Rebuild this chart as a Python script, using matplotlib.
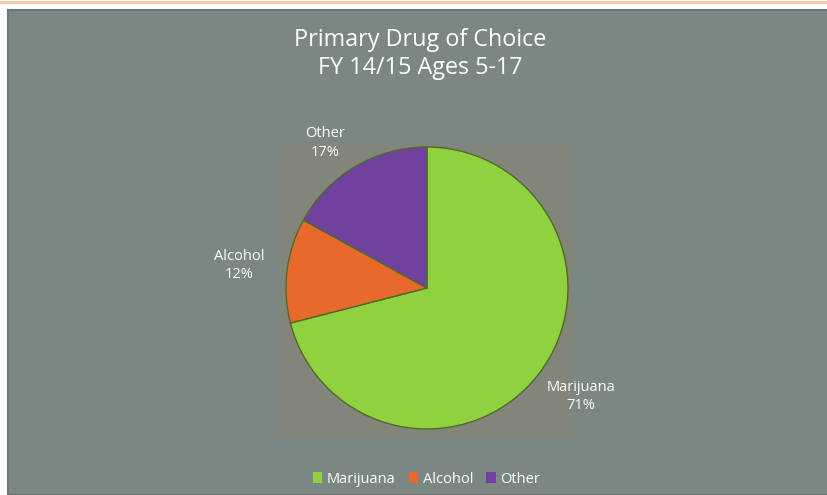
import matplotlib.pyplot as plt
from matplotlib.patches import Rectangle

# drug share, FY 14/15, ages 5-17
drugs = ["Marijuana", "Alcohol", "Other"]
shares = [71, 12, 17]
slice_colors = ["#8fd13e", "#e8692c", "#7141a0"]

title_lines = ["Primary Drug of Choice", "FY 14/15 Ages 5-17"]

panel = "#7b8783"
plot_area = "#84857a"

plt.rcParams['font.family'] = ['Open Sans', 'DejaVu Sans']

fig = plt.figure(figsize=(8.28, 4.95), dpi=100)
fig.patch.set_facecolor("white")

# grey chart panel with the thin orange rule above it
fig.add_artist(Rectangle((8 / 828, 0), 1, 485 / 495, transform=fig.transFigure,
                         facecolor=panel, edgecolor="#6e7673", linewidth=1.5, zorder=0))
fig.add_artist(Rectangle((0, 491 / 495), 1, 3 / 495, transform=fig.transFigure,
                         facecolor="#f6c9a0", edgecolor="none", zorder=0))

fig.text(0.508, 0.919, title_lines[0], ha="center", va="center", color="white", fontsize=16.8)
fig.text(0.508, 0.862, title_lines[1], ha="center", va="center", color="white", fontsize=16.8)

ax = fig.add_axes([286 / 828, 66 / 495, 282 / 828, 282 / 495])
wedges, _ = ax.pie(shares, colors=slice_colors, startangle=90, counterclock=False,
                   wedgeprops=dict(edgecolor="#4d6a2a", linewidth=1.0))
for w in wedges:
    w.set_zorder(3)
ax.set_xlim(-1, 1)
ax.set_ylim(-1, 1)
ax.set_aspect("equal")

ax.add_patch(Rectangle((-1.04, -1.06), 2.075, 2.075, facecolor=plot_area,
                       edgecolor="none", clip_on=False, zorder=1))

label_pos = [(1.09, -0.77), (-1.33, 0.16), (-0.72, 1.03)]
for name, val, (lx, ly) in zip(drugs, shares, label_pos):
    ax.text(lx, ly, f"{name}\n{val}%", ha="center", va="center", color="white",
            fontsize=10.5, linespacing=1.35, zorder=4)

handles = [Rectangle((0, 0), 1, 1, facecolor=c, edgecolor="none") for c in slice_colors]
leg = fig.legend(handles, drugs, loc="center", bbox_to_anchor=(0.515, 0.032), ncol=3,
                 frameon=False, fontsize=10.5, handlelength=0.65, handleheight=0.75,
                 handletextpad=0.3, columnspacing=0.9)
for t in leg.get_texts():
    t.set_color("white")

fig.savefig("out.png", dpi=100, facecolor=fig.get_facecolor())
